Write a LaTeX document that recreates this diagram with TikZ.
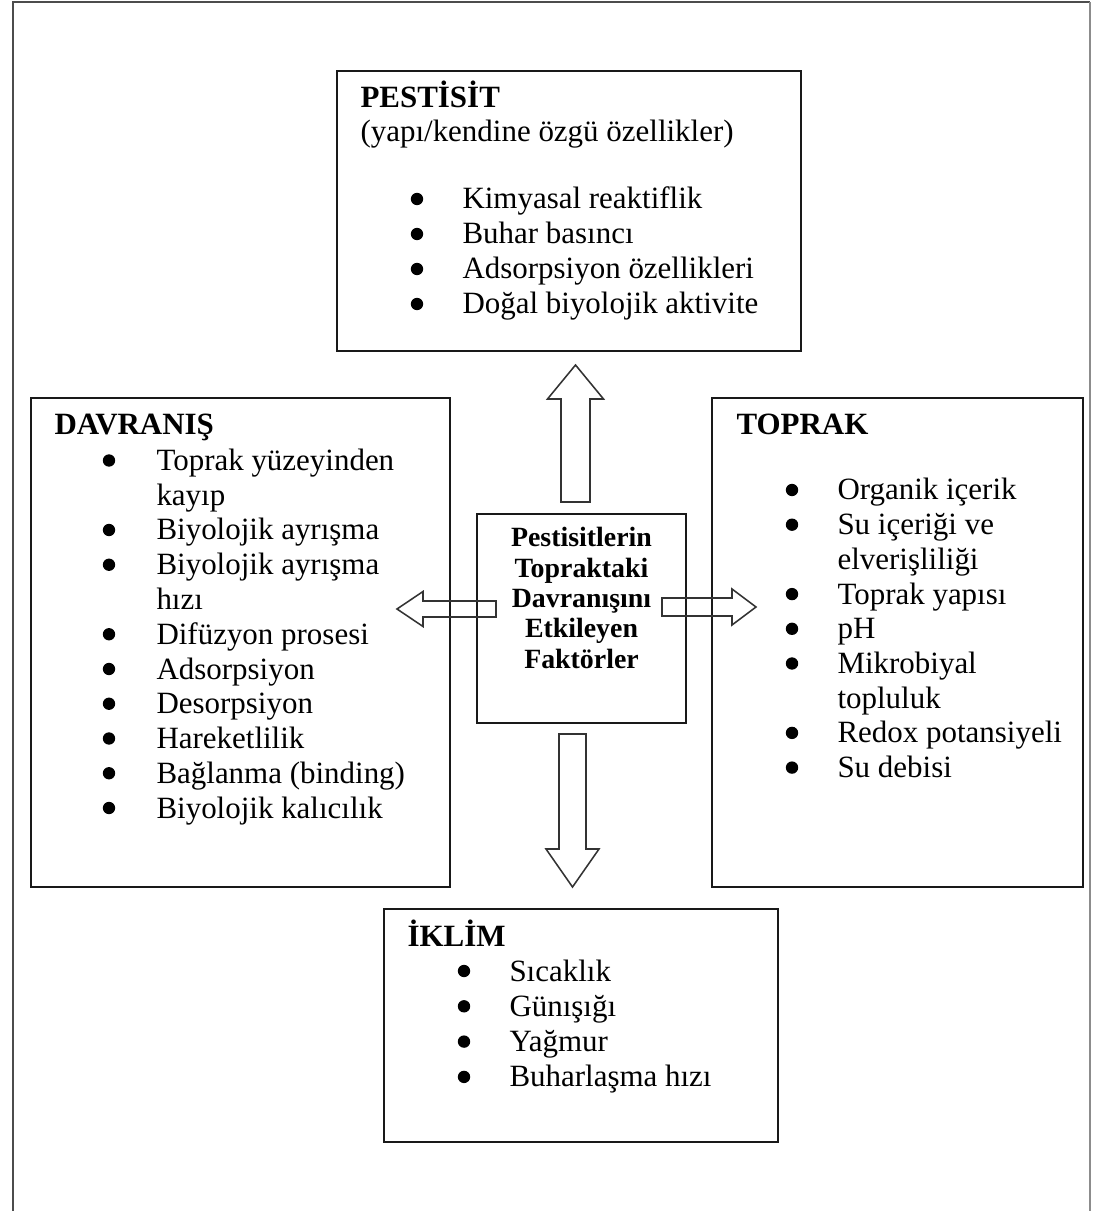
\documentclass[tikz,border=0pt]{standalone}
\usepackage{fontspec}
\setmainfont{Liberation Serif}
\usetikzlibrary{calc,fit}
\begin{document}
\begin{tikzpicture}[x=0.3876pt,y=-0.3876pt,
  box/.style={draw=black!90, line width=0.8pt, inner sep=0pt},
  arr/.style={draw=black!80, line width=0.6pt, line join=miter},
  frame/.style={line width=0.8pt, draw=black!70},
  head/.style={font=\fontsize{12}{13.5}\selectfont\bfseries, anchor=base west, inner sep=0pt},
  txt/.style={font=\fontsize{12}{13.5}\selectfont, anchor=base west, inner sep=0pt},
  bul/.style={circle, fill=black, draw=none, inner sep=0pt, minimum size=4.8pt},
  ctr/.style={font=\fontsize{10.8}{11.7}\selectfont\bfseries, anchor=base, inner sep=0pt}]
\useasboundingbox (0,0) rectangle (1100,1211);

% outer frame (open at the bottom)
\draw[frame] (13,1211) -- (13,2) -- (1090,2);
\draw[line width=0.5pt, draw=black!45] (1090,2) -- (1090,1211);

% boxes
\node[box, fit={(337,71) (801,351)}] (pest) {};
\node[box, fit={(31,398) (450,887)}] (davr) {};
\node[box, fit={(712,398) (1083,887)}] (topr) {};
\node[box, fit={(384,909) (778,1142)}] (ikl) {};
\node[box, fit={(477,514) (686,723)}] (cent) {};

% centre text
\foreach \t [count=\i] in {Pestisitlerin, Topraktaki, Davranışını, Etkileyen, Faktörler}
  \node[ctr] (c\i) at (581.5, {547+30.25*(\i-1)}) {\t};

% PESTISIT
\node[head] (pesth) at (360,108) {PESTİSİT};
\node[txt] (pests) at (360,142) {(yapı/kendine özgü özellikler)};
\foreach \t [count=\i] in {Kimyasal reaktiflik, Buhar basıncı, Adsorpsiyon özellikleri, Doğal biyolojik aktivite}{
  \node[txt] (pi\i) at (462, {209+35*(\i-1)}) {\t};
  \node[bul] (pb\i) at (417, {209+35*(\i-1)-10}) {};
}

% DAVRANIS
\node[head] (davrh) at (54,435) {DAVRANIŞ};
\foreach \t/\b [count=\i] in {Toprak yüzeyinden/1, kayıp/0, Biyolojik ayrışma/1, Biyolojik ayrışma/1, hızı/0, Difüzyon prosesi/1, Adsorpsiyon/1, Desorpsiyon/1, Hareketlilik/1, Bağlanma (binding)/1, Biyolojik kalıcılık/1}{
  \node[txt] (di\i) at (156, {470.5+34.75*(\i-1)}) {\t};
  \ifnum\b=1 \node[bul] (db\i) at (109, {470.5+34.75*(\i-1)-10}) {};\fi
}

% TOPRAK
\node[head] (toprh) at (736,435) {TOPRAK};
\foreach \t/\b [count=\i] in {Organik içerik/1, Su içeriği ve/1, elverişliliği/0, Toprak yapısı/1, pH/1, Mikrobiyal/1, topluluk/0, Redox potansiyeli/1, Su debisi/1}{
  \node[txt] (ti\i) at (837, {500+34.7*(\i-1)}) {\t};
  \ifnum\b=1 \node[bul] (tb\i) at (792, {500+34.7*(\i-1)-10}) {};\fi
}

% IKLIM
\node[head] (iklh) at (407,946) {İKLİM};
\foreach \t [count=\i] in {Sıcaklık, Günışığı, Yağmur, Buharlaşma hızı}{
  \node[txt] (ii\i) at (509, {981+35.3*(\i-1)}) {\t};
  \node[bul] (ib\i) at (464, {981+35.3*(\i-1)-10}) {};
}

% block arrows
\coordinate (uT) at (575.5,502); \coordinate (uH) at (575.5,365);
\draw[arr] ($(uT)+(-14.5,0)$) -- ($(uH)+(-14.5,34)$) -- ($(uH)+(-28,34)$) -- (uH)
  -- ($(uH)+(28,34)$) -- ($(uH)+(14.5,34)$) -- ($(uT)+(14.5,0)$) -- cycle;

\coordinate (dT) at (572.5,734); \coordinate (dH) at (572.5,887);
\draw[arr] ($(dT)+(-13.5,0)$) -- ($(dH)+(-13.5,-38)$) -- ($(dH)+(-26.5,-38)$) -- (dH)
  -- ($(dH)+(26.5,-38)$) -- ($(dH)+(13.5,-38)$) -- ($(dT)+(13.5,0)$) -- cycle;

\coordinate (lT) at (496,609); \coordinate (lH) at (397,609);
\draw[arr] ($(lT)+(0,-8)$) -- ($(lH)+(26,-8)$) -- ($(lH)+(26,-17.5)$) -- (lH)
  -- ($(lH)+(26,17.5)$) -- ($(lH)+(26,8)$) -- ($(lT)+(0,8)$) -- cycle;

\coordinate (rT) at (662,607); \coordinate (rH) at (756,607);
\draw[arr] ($(rT)+(0,-9)$) -- ($(rH)+(-24,-9)$) -- ($(rH)+(-24,-18)$) -- (rH)
  -- ($(rH)+(-24,18)$) -- ($(rH)+(-24,9)$) -- ($(rT)+(0,9)$) -- cycle;
\end{tikzpicture}
\end{document}
